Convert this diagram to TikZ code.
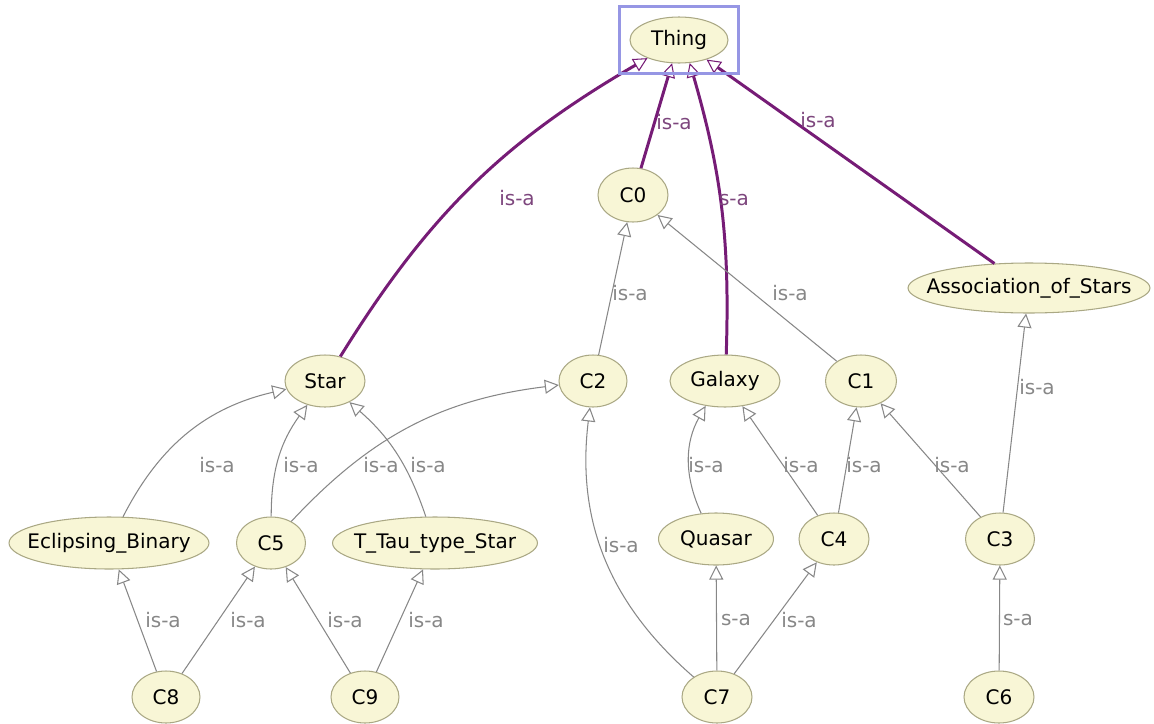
\documentclass[tikz,border=0pt]{standalone}
\usepackage{fontspec}
\setmainfont{DejaVu Sans}
\definecolor{ogfill}{RGB}{248,246,214}
\definecolor{ogborder}{RGB}{170,168,132}
\definecolor{oggray}{RGB}{135,135,135}
\definecolor{ogpurple}{RGB}{118,28,118}
\definecolor{oglabel}{RGB}{125,70,125}
\definecolor{ogselect}{RGB}{150,150,228}
\usetikzlibrary{arrows.meta,positioning,shapes.geometric,fit}

\begin{document}
\begin{tikzpicture}[x=0.02cm, y=-0.02cm,
  cls/.style={ellipse, draw=ogborder, fill=ogfill, line width=0.6pt, inner xsep=-1cm, minimum height=1.04cm, font=\fontsize{11.4}{13}\selectfont},
  isa/.style={-{Triangle[length=8pt, width=8pt, fill=white, line width=0.6pt]}, draw=oggray, line width=0.6pt},
  topisa/.style={isa, draw=ogpurple, line width=1.7pt},
  lbl/.style={font=\fontsize{11.4}{13}\selectfont, text=oggray, inner sep=0pt},
  toplbl/.style={lbl, text=oglabel}]
  \useasboundingbox (0,0) rectangle (1154,724);

  % Root class
  \node[cls, minimum width=1.96cm, minimum height=0.92cm] (thing) at (679,40) {Thing};

  % Second level
  \node[cls, minimum width=1.4cm, minimum height=1.08cm] (c0) at (633,195) {C0};
  \node[cls, minimum width=4.84cm, minimum height=1.0cm] (assoc) at (1029,288) {Association\_of\_Stars};

  % Third level
  \node[cls, minimum width=1.6cm] (star) at (325,381) {Star};
  \node[cls, minimum width=1.36cm] (c2) at (593,381) {C2};
  \node[cls, minimum width=2.2cm] (galaxy) at (725,381) {Galaxy};
  \node[cls, minimum width=1.42cm] (c1) at (861,381) {C1};

  % Fourth level
  \node[cls, minimum width=4.0cm] (eclipsing) at (109,543) {Eclipsing\_Binary};
  \node[cls, minimum width=1.38cm] (c5) at (271,543) {C5};
  \node[cls, minimum width=4.1cm] (ttau) at (435,543) {T\_Tau\_type\_Star};
  \node[cls, minimum width=2.3cm] (quasar) at (716,539) {Quasar};
  \node[cls, minimum width=1.4cm] (c4) at (834,539) {C4};
  \node[cls, minimum width=1.38cm] (c3) at (1000,539) {C3};

  % Leaves
  \node[cls, minimum width=1.36cm] (c8) at (166,697) {C8};
  \node[cls, minimum width=1.36cm] (c9) at (365,697) {C9};
  \node[cls, minimum width=1.4cm] (c7) at (717,697) {C7};
  \node[cls, minimum width=1.4cm] (c6) at (999,697) {C6};

  % is-a links to Thing
  \draw[topisa] (star) to[bend left=14] (thing);
  \draw[topisa] (c0) -- (thing);
  \draw[topisa] (galaxy) to[bend right=9] (thing.-65);
  \draw[topisa] (assoc) -- (thing);

  % is-a links below
  \draw[isa] (c2) -- (c0);
  \draw[isa] (c1) -- (c0);
  \draw[isa] (c3) -- (assoc);
  \draw[isa] (eclipsing) to[bend left=25] (star);
  \draw[isa] (c5) to[bend left=18] (star);
  \draw[isa] (c5) to[bend left=20] (c2);
  \draw[isa] (ttau) to[bend right=15] (star);
  \draw[isa] (c8) -- (eclipsing);
  \draw[isa] (c8) -- (c5);
  \draw[isa] (c9) -- (c5);
  \draw[isa] (c9) -- (ttau);
  \draw[isa] (c7) to[bend left=28] (c2);
  \draw[isa] (quasar.120) to[bend left=27] (galaxy.-128);
  \draw[isa] (c4) -- (galaxy);
  \draw[isa] (c4) -- (c1);
  \draw[isa] (c3) -- (c1);
  \draw[isa] (c7) -- (quasar);
  \draw[isa] (c7) -- (c4);
  \draw[isa] (c6) -- (c3);

  % Selection frame
  \node[draw=ogselect, line width=1.8pt, fit=(thing), inner xsep=0.2cm, inner ysep=0.2cm] (selframe) {};

  % Labels
  \node[toplbl] (l-star) at (517,198) {is-a};
  \node[toplbl] (l-c0) at (674,122) {is-a};
  \node[toplbl] (l-galaxy) at (734,200) {s-a};
  \node[toplbl] (l-assoc) at (818,120) {is-a};
  \node[lbl] (l-c2) at (630,293) {is-a};
  \node[lbl] (l-c1) at (790,293) {is-a};
  \node[lbl] (l-c3a) at (1037,387) {is-a};
  \node[lbl] (l-ecl) at (217,465) {is-a};
  \node[lbl] (l-c5s) at (301,465) {is-a};
  \node[lbl] (l-c5c) at (381,465) {is-a};
  \node[lbl] (l-ttau) at (428,465) {is-a};
  \node[lbl] (l-quasar) at (706,465) {is-a};
  \node[lbl] (l-c4g) at (801,465) {is-a};
  \node[lbl] (l-c4c) at (864,465) {is-a};
  \node[lbl] (l-c3c) at (952,465) {is-a};
  \node[lbl] (l-c7c) at (621,545) {is-a};
  \node[lbl] (l-c8e) at (163,620) {is-a};
  \node[lbl] (l-c8c) at (248,620) {is-a};
  \node[lbl] (l-c9c) at (345,620) {is-a};
  \node[lbl] (l-c9t) at (426,620) {is-a};
  \node[lbl] (l-c7q) at (736,620) {s-a};
  \node[lbl] (l-c7c4) at (799,620) {is-a};
  \node[lbl] (l-c6) at (1018,620) {s-a};
\end{tikzpicture}
\end{document}
